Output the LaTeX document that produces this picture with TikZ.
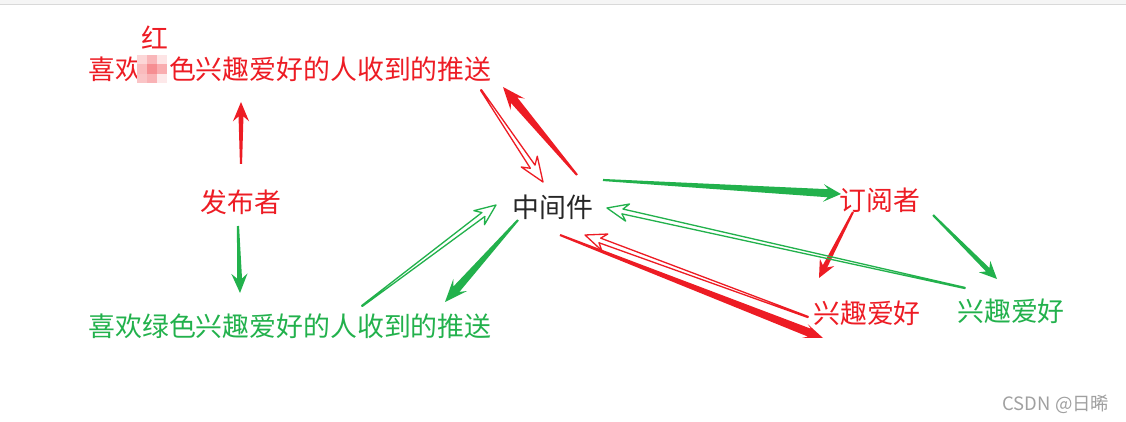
\documentclass[tikz,border=0pt]{standalone}
\usepackage{fontspec}
\setmainfont{Noto Sans CJK SC}
\usepackage{tikz}
\usetikzlibrary{calc}
\definecolor{pred}{RGB}{237,28,36}
\definecolor{pgreen}{RGB}{34,177,76}
\definecolor{wm}{RGB}{160,160,160}
\tikzset{
  redtxt/.style={text=pred,inner sep=0pt,font=\fontsize{15.3pt}{18pt}\selectfont},
  greentxt/.style={text=pgreen,inner sep=0pt,font=\fontsize{15.3pt}{18pt}\selectfont},
  blacktxt/.style={text=black!85,inner sep=0pt,font=\fontsize{15.3pt}{18pt}\selectfont},
  wmtxt/.style={text=wm,inner sep=0pt,font=\fontsize{10.5pt}{12pt}\selectfont}
}
% colour, tail, tip, head length, head half width, shaft half width
\newcommand{\solidarrow}[6]{%
  \coordinate (hc) at ($(#3)!#4!(#2)$);
  \coordinate (hn) at ($(#3)!0.75*#4!(#2)$);
  \fill[#1] ($(#2)!0.6pt!90:(#3)$) -- ($(hn)!#6!90:(#3)$) -- ($(hc)!#5!90:(#3)$) -- (#3)
    -- ($(hc)!#5!-90:(#3)$) -- ($(hn)!#6!-90:(#3)$) -- ($(#2)!0.6pt!-90:(#3)$) -- cycle;
}
\newcommand{\hollowarrow}[6]{%
  \coordinate (hc) at ($(#3)!#4!(#2)$);
  \coordinate (hn) at ($(#3)!0.75*#4!(#2)$);
  \draw[#1,line width=0.75pt] ($(#2)!0.3pt!90:(#3)$) -- ($(hn)!#6!90:(#3)$) -- ($(hc)!#5!90:(#3)$) -- (#3)
    -- ($(hc)!#5!-90:(#3)$) -- ($(hn)!#6!-90:(#3)$) -- ($(#2)!0.3pt!-90:(#3)$) -- cycle;
}

\begin{document}
\begin{tikzpicture}[line cap=round,line join=round,x=0.02cm,y=-0.02cm]
\useasboundingbox (0,0) rectangle (1126,422);
\fill[black!4] (0,0) rectangle (1126,4.5);
\draw[black!15,line width=0.4pt] (0,4.5) -- (1126,4.5);

\node[redtxt] (mark) at (155,38) {红};
\node[redtxt] (redpush) at (290,69) {喜欢\phantom{红}色兴趣爱好的人收到的推送};
\node[redtxt] (pub) at (241,202) {发布者};
\node[greentxt] (greenpush) at (290,326) {喜欢绿色兴趣爱好的人收到的推送};
\node[blacktxt] (mid) at (553,207) {中间件};
\node[redtxt] (sub) at (880,200) {订阅者};
\node[redtxt] (redlike) at (867,313) {兴趣爱好};
\node[greentxt] (greenlike) at (1011,311) {兴趣爱好};
\node[wmtxt] (csdn) at (1056,404) {CSDN @日晞};

\foreach \i/\j/\c in {0/0/18,1/0/32,2/0/12,0/1/30,1/1/50,2/1/36,0/2/26,1/2/34,2/2/10}
  \fill[pred!\c] (137+10*\i,55+9.3*\j) rectangle +(10,9.3);

\coordinate (pubup) at (241,164);
\coordinate (redpushdn) at (241,102);
\coordinate (pubdn) at (238,226);
\coordinate (greenpushup) at (240,293);
\coordinate (redpushout) at (481,90);
\coordinate (midin1) at (543,182);
\coordinate (midout1) at (577,175);
\coordinate (redpushin) at (503,87);
\coordinate (greenpushout) at (362,306);
\coordinate (midin2) at (496,205);
\coordinate (midout2) at (518,220);
\coordinate (greenpushin) at (445,302);
\coordinate (midout3) at (603,180);
\coordinate (subin) at (841,194);
\coordinate (greenlikeout) at (965,288);
\coordinate (midin3) at (607,208);
\coordinate (subout1) at (853,212);
\coordinate (redlikein) at (819,278);
\coordinate (subout2) at (933,215);
\coordinate (greenlikein) at (997,279);
\coordinate (midout4) at (560,235);
\coordinate (redlikeup) at (823,338);
\coordinate (redlikeout) at (808,317);
\coordinate (midin4) at (585,235);

\solidarrow{pred}{pubup}{redpushdn}{11pt}{4.6pt}{1.4pt}
\solidarrow{pgreen}{pubdn}{greenpushup}{11pt}{4.6pt}{1.4pt}
\hollowarrow{pred}{redpushout}{midin1}{14pt}{5.5pt}{1.6pt}
\solidarrow{pred}{midout1}{redpushin}{13pt}{5.2pt}{2.4pt}
\hollowarrow{pgreen}{greenpushout}{midin2}{12pt}{5pt}{1.4pt}
\solidarrow{pgreen}{midout2}{greenpushin}{13pt}{5.2pt}{2.3pt}
\solidarrow{pgreen}{midout3}{subin}{10pt}{5pt}{2.3pt}
\solidarrow{pred}{subout1}{redlikein}{10pt}{4.6pt}{1.4pt}
\solidarrow{pgreen}{subout2}{greenlikein}{10pt}{4.6pt}{1.4pt}
\hollowarrow{pgreen}{greenlikeout}{midin3}{12pt}{5pt}{1.4pt}
\solidarrow{pred}{midout4}{redlikeup}{11pt}{4.2pt}{2.4pt}
\hollowarrow{pred}{redlikeout}{midin4}{12pt}{5pt}{1.4pt}
\end{tikzpicture}
\end{document}
